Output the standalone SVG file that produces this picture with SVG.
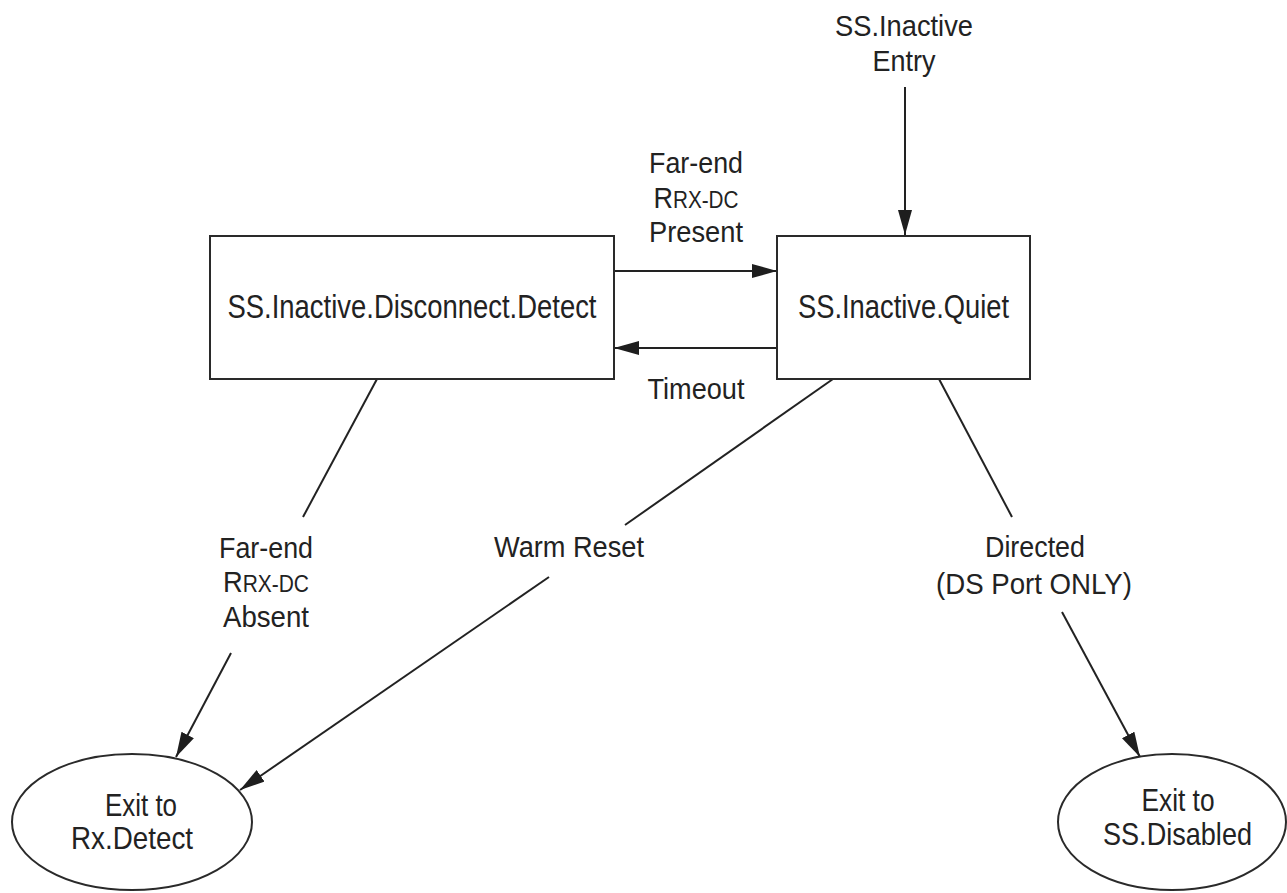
<svg xmlns="http://www.w3.org/2000/svg" width="1287" height="893" viewBox="0 0 1287 893">
  <defs>
    <marker id="arrow" markerUnits="userSpaceOnUse" markerWidth="26" markerHeight="16" refX="25" refY="7" orient="auto">
      <path d="M0,0 L25,7 L0,14 Z" fill="#1e1e1e"/>
    </marker>
    <style>
      .box { fill: #fff; stroke: #2a2a2a; stroke-width: 2; }
      .edge { fill: none; stroke: #222; stroke-width: 2; }
      .arr { marker-end: url(#arrow); }
      text { font-family: "Liberation Sans", Arial, sans-serif; fill: #222; text-anchor: middle; }
      .big { font-size: 34px; }
      .exit { font-size: 32px; }
      .lbl { font-size: 30px; }
      .sub { font-size: 23px; }
    </style>
  </defs>
  <rect width="1287" height="893" fill="#fff"/>

  <g id="connectors">
    <line class="edge arr" x1="905" y1="87" x2="905" y2="235"/>
    <line class="edge arr" x1="614" y1="271" x2="777" y2="271"/>
    <line class="edge arr" x1="777" y1="348" x2="614" y2="348"/>
    <line class="edge" x1="377" y1="379" x2="303" y2="517"/>
    <line class="edge arr" x1="231" y1="653" x2="176" y2="757"/>
    <line class="edge" x1="833" y1="379" x2="625" y2="525"/>
    <line class="edge arr" x1="549" y1="577" x2="240" y2="790"/>
    <line class="edge" x1="939" y1="379" x2="1012" y2="517"/>
    <line class="edge arr" x1="1062" y1="612" x2="1140" y2="757"/>
  </g>

  <g id="labels">
    <text class="lbl" x="904" y="36" textLength="138" lengthAdjust="spacingAndGlyphs">SS.Inactive</text>
    <text class="lbl" x="904" y="71" textLength="63" lengthAdjust="spacingAndGlyphs">Entry</text>
    <text class="lbl" x="696" y="173" textLength="94" lengthAdjust="spacingAndGlyphs">Far-end</text>
    <text class="lbl" x="696" y="208" textLength="85" lengthAdjust="spacingAndGlyphs">R<tspan class="sub">RX-DC</tspan></text>
    <text class="lbl" x="696" y="242" textLength="94" lengthAdjust="spacingAndGlyphs">Present</text>
    <text class="lbl" x="696" y="399" textLength="97" lengthAdjust="spacingAndGlyphs">Timeout</text>
    <text class="lbl" x="266" y="558" textLength="94" lengthAdjust="spacingAndGlyphs">Far-end</text>
    <text class="lbl" x="266" y="592" textLength="86" lengthAdjust="spacingAndGlyphs">R<tspan class="sub">RX-DC</tspan></text>
    <text class="lbl" x="266" y="627" textLength="86" lengthAdjust="spacingAndGlyphs">Absent</text>
    <text class="lbl" x="569" y="557" textLength="150" lengthAdjust="spacingAndGlyphs">Warm Reset</text>
    <text class="lbl" x="1035" y="557" textLength="100" lengthAdjust="spacingAndGlyphs">Directed</text>
    <text class="lbl" x="1034" y="594" textLength="196" lengthAdjust="spacingAndGlyphs">(DS Port ONLY)</text>
  </g>

  <g id="node-disconnect-detect">
    <rect class="box" x="210" y="236" width="404" height="143"/>
    <text class="big" x="412" y="318" textLength="369" lengthAdjust="spacingAndGlyphs">SS.Inactive.Disconnect.Detect</text>
  </g>

  <g id="node-quiet">
    <rect class="box" x="777" y="236" width="253" height="143"/>
    <text class="big" x="903.5" y="318" textLength="211" lengthAdjust="spacingAndGlyphs">SS.Inactive.Quiet</text>
  </g>

  <g id="node-exit-rx-detect">
    <ellipse class="box" cx="132" cy="822" rx="120" ry="68"/>
    <text class="exit" x="141" y="816" textLength="72" lengthAdjust="spacingAndGlyphs">Exit to</text>
    <text class="exit" x="132" y="849" textLength="122" lengthAdjust="spacingAndGlyphs">Rx.Detect</text>
  </g>

  <g id="node-exit-ss-disabled">
    <ellipse class="box" cx="1172" cy="822" rx="114" ry="68"/>
    <text class="exit" x="1178" y="811" textLength="73" lengthAdjust="spacingAndGlyphs">Exit to</text>
    <text class="exit" x="1177.5" y="845" textLength="149" lengthAdjust="spacingAndGlyphs">SS.Disabled</text>
  </g>
</svg>
